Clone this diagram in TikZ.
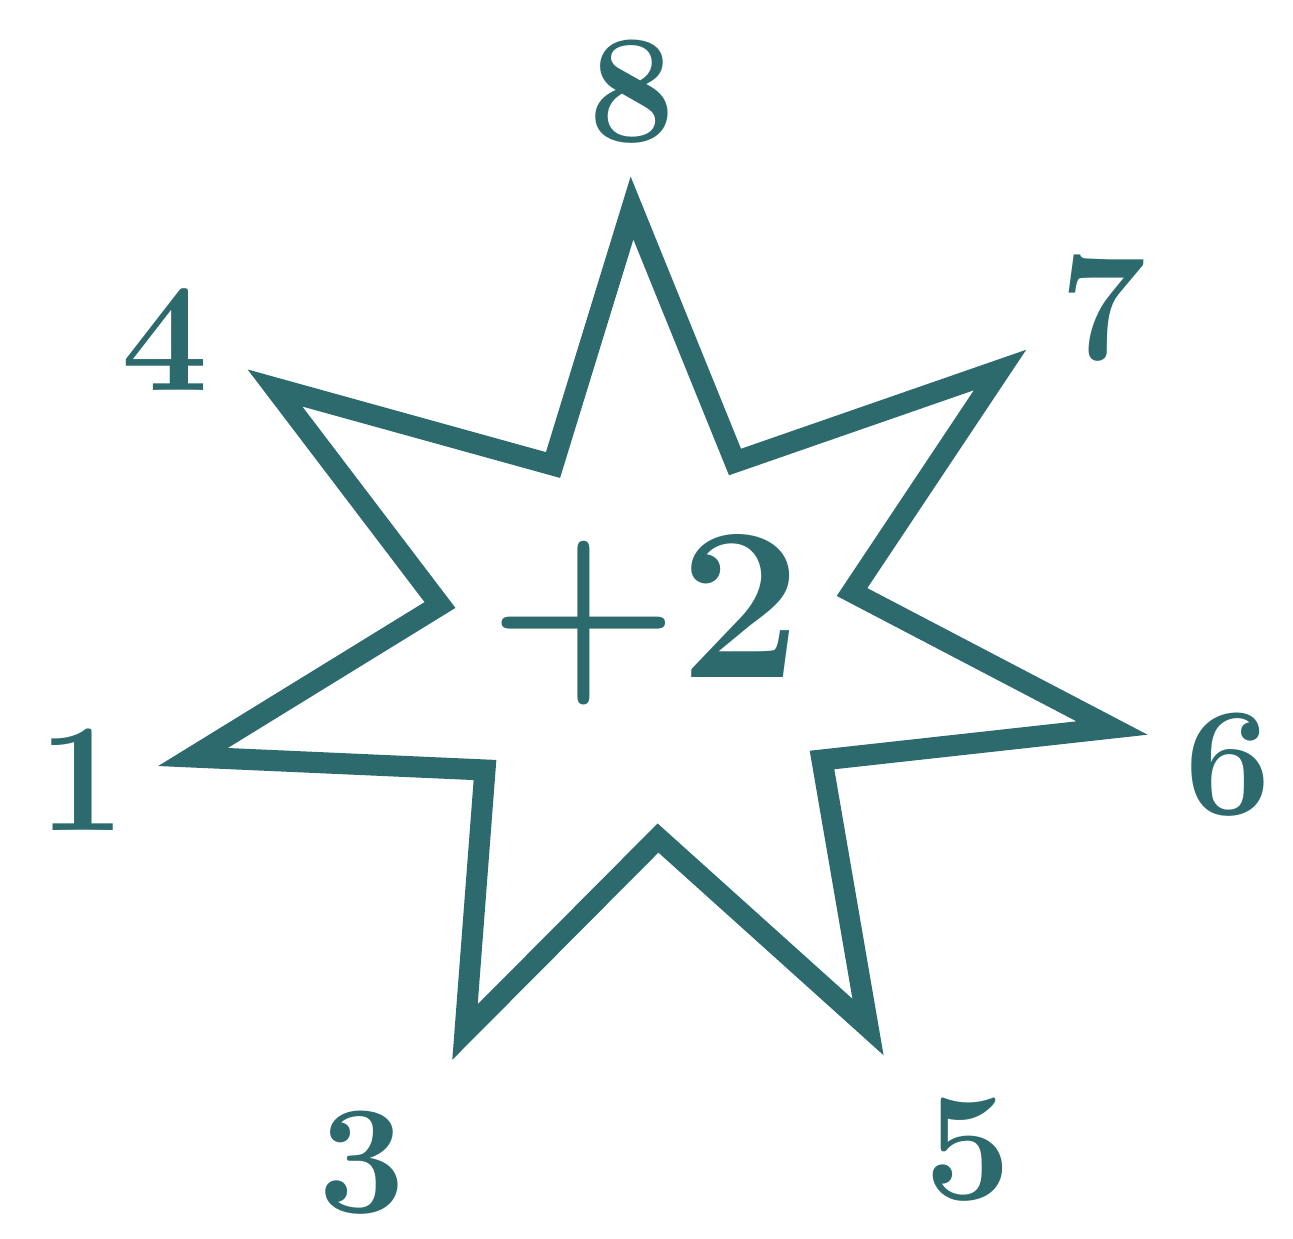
\documentclass[tikz,border=0pt]{standalone}
\begin{document}
\begin{tikzpicture}[x=0.01cm,y=-0.01cm]
\definecolor{teal1}{RGB}{45,106,110}
\tikzset{lab/.style={text=teal1,font=\fontsize{44}{44}\selectfont\bfseries,inner sep=0pt}}
\useasboundingbox (0,0) rectangle (1293,1238);
\coordinate (o8) at (632,208);
\coordinate (i87) at (735,462);
\coordinate (o7) at (1000,370);
\coordinate (i76) at (852,592);
\coordinate (o6) at (1112,728);
\coordinate (i65) at (822,760);
\coordinate (o5) at (868,1027);
\coordinate (i53) at (658,838);
\coordinate (o3) at (465,1032);
\coordinate (i31) at (485,770);
\coordinate (o1) at (193,757);
\coordinate (i14) at (440,605);
\coordinate (o4) at (275,388);
\coordinate (i48) at (553,465);
\draw[teal1,line width=6pt,line join=miter,miter limit=12]
 (o8)--(i87)--(o7)--(i76)--(o6)--(i65)--(o5)--(i53)--(o3)--(i31)--(o1)--(i14)--(o4)--(i48)--cycle;
\node[lab] (l8) at (632,92) {8};
\node[lab] (l7) at (1103,308) {7};
\node[lab] (l6) at (1228,765) {6};
\node[lab] (l5) at (968,1150) {5};
\node[lab] (l3) at (362,1163) {3};
\node[lab] (l1) at (82,780) {1};
\node[lab] (l4) at (165,340) {4};
\node[lab,font=\fontsize{62}{62}\selectfont\bfseries] (c) at (645,620) {+2};
\end{tikzpicture}
\end{document}
